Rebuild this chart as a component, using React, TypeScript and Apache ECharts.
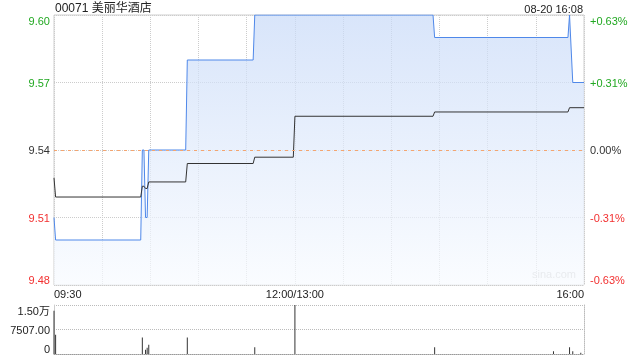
import React, { useEffect, useRef } from 'react';
import * as echarts from 'echarts';

const FONT = '"Liberation Sans", Arial, "Noto Sans CJK SC", sans-serif';

const stockTitle = '00071 美丽华酒店';
const stamp = '08-20 16:08';
const prevClose = 9.54;

// minute index since 09:30 (lunch break removed), 330 = 16:00
const tickMinutes = [0, 150, 330];
const tickLabels = ['09:30', '12:00/13:00', '16:00'];

const priceMinutes = [0, 1, 54, 55, 56, 57, 58, 59, 82, 83, 124, 125, 236, 237, 320, 321, 323, 330];
const priceValues = [9.51, 9.5, 9.5, 9.54, 9.54, 9.51, 9.51, 9.54, 9.54, 9.58, 9.58, 9.6, 9.6, 9.59, 9.59, 9.6, 9.57, 9.57];

const avgMinutes = [0, 1, 54, 55, 56, 57, 58, 59, 82, 83, 124, 125, 149, 150, 236, 237, 320, 321, 330];
const avgValues = [9.5276, 9.5191, 9.5191, 9.5239, 9.5239, 9.5229, 9.5229, 9.5258, 9.5258, 9.534, 9.534, 9.5368, 9.5368, 9.555, 9.555, 9.5569, 9.5569, 9.5588, 9.5588];

const volMinutes = [0, 1, 55, 57, 58, 59, 83, 125, 150, 237, 311, 321, 323, 328];
const volValues = [13280, 5880, 5060, 1300, 1900, 2830, 5060, 2030, 15014, 2030, 810, 2030, 810, 400];

const GREEN = '#21a821';
const RED = '#f23030';
const DARK = '#333';

const priceColor = (v: number) => (v > prevClose + 1e-6 ? GREEN : v < prevClose - 1e-6 ? RED : DARK);

export default function App() {
  const ref = useRef<HTMLDivElement>(null);
  useEffect(() => {
    const chart = echarts.init(ref.current!, null, { renderer: 'svg' });
    const priceData = priceMinutes.map((m, i) => [m, priceValues[i]]);
    const avgData = avgMinutes.map((m, i) => [m, avgValues[i]]);
    const volData = volMinutes.map((m, i) => [m, volValues[i]]);
    chart.setOption({
      animation: false,
      textStyle: { fontFamily: FONT },
      title: [
        { text: stockTitle, left: 55, top: 2, padding: 0, textStyle: { fontSize: 12, fontWeight: 'normal', color: '#222', fontFamily: FONT } },
        { text: stamp, right: 57, top: 3, padding: 0, textStyle: { fontSize: 11, fontWeight: 'normal', color: '#222', fontFamily: FONT } },
      ],
      graphic: [
        { type: 'text', right: 64, top: 268, style: { text: 'sina.com', fill: '#c8c8c8', fontSize: 11, fontFamily: FONT } },
      ],
      grid: [
        { left: 54, right: 56, top: 15, height: 270, show: true, borderColor: '#cfcfcf', borderWidth: 1, backgroundColor: 'transparent' },
        { left: 54, right: 56, top: 305, height: 49 },
      ],
      xAxis: [
        {
          type: 'value', gridIndex: 0, min: 0, max: 330, interval: 30,
          axisLine: { show: false }, axisTick: { show: false },
          splitLine: { show: true, lineStyle: { color: '#cccccc', type: 'dotted', width: 1 } },
          axisLabel: {
            margin: 3, fontSize: 11, color: '#222', fontFamily: FONT,
            showMinLabel: true, showMaxLabel: true,
            alignMinLabel: 'left', alignMaxLabel: 'right',
            formatter: (v: number) => {
              const i = tickMinutes.indexOf(Math.round(v));
              return i >= 0 ? tickLabels[i] : '';
            },
          },
        },
        {
          type: 'value', gridIndex: 1, min: 0, max: 330, interval: 30,
          axisLine: { show: true, lineStyle: { color: '#999', type: 'dotted' } },
          axisTick: { show: false }, axisLabel: { show: false }, splitLine: { show: false },
        },
      ],
      yAxis: [
        {
          type: 'value', gridIndex: 0, position: 'left', min: 9.48, max: 9.6, interval: 0.03,
          axisLine: { show: false }, axisTick: { show: false },
          splitLine: { show: true, lineStyle: { color: '#cccccc', type: 'dotted', width: 1 } },
          axisLabel: {
            margin: 4, fontSize: 11, fontFamily: FONT,
            verticalAlignMinLabel: 'bottom', verticalAlignMaxLabel: 'top',
            formatter: (v: number) => v.toFixed(2),
            color: (v: any) => priceColor(Number(v)),
          },
        },
        {
          type: 'value', gridIndex: 0, position: 'right', min: 9.48, max: 9.6, interval: 0.03,
          axisLine: { show: false }, axisTick: { show: false }, splitLine: { show: false },
          axisLabel: {
            margin: 6, fontSize: 11, fontFamily: FONT,
            verticalAlignMinLabel: 'bottom', verticalAlignMaxLabel: 'top',
            formatter: (v: number) => {
              const p = ((v - prevClose) / prevClose) * 100;
              if (Math.abs(p) < 0.001) return '0.00%';
              return (p > 0 ? '+' : '') + p.toFixed(2) + '%';
            },
            color: (v: any) => priceColor(Number(v)),
          },
        },
        {
          type: 'value', gridIndex: 1, position: 'left', min: 0, max: 15014, interval: 7507,
          axisLine: { show: true, lineStyle: { color: '#cccccc' } }, axisTick: { show: false },
          splitLine: { show: true, lineStyle: { color: '#bbbbbb', type: 'dotted' } },
          axisLabel: {
            margin: 4, fontSize: 11, color: '#222', fontFamily: FONT,
            verticalAlignMinLabel: 'bottom', verticalAlignMaxLabel: 'top',
            formatter: (v: number) => (v === 0 ? '0' : v >= 10000 ? (v / 10000).toFixed(2) + '万' : v.toFixed(2)),
          },
        },
        {
          type: 'value', gridIndex: 1, position: 'right', min: 0, max: 15014,
          axisLine: { show: true, lineStyle: { color: '#bbbbbb', type: 'dotted' } },
          axisTick: { show: false }, axisLabel: { show: false }, splitLine: { show: false },
        },
      ],
      series: [
        {
          type: 'line', xAxisIndex: 0, yAxisIndex: 0, data: priceData, symbol: 'none',
          lineStyle: { color: '#4f88e9', width: 1 },
          areaStyle: {
            origin: 'start',
            color: new echarts.graphic.LinearGradient(0, 0, 0, 1, [
              { offset: 0, color: '#c8daf8' },
              { offset: 1, color: '#f8fbff' },
            ]),
          },
          markLine: {
            silent: true, symbol: 'none', label: { show: false },
            lineStyle: { color: '#f4a570', type: [3, 4], width: 1 },
            data: [{ yAxis: prevClose }],
          },
          z: 3,
        },
        {
          type: 'line', xAxisIndex: 0, yAxisIndex: 0, data: avgData, symbol: 'none',
          lineStyle: { color: '#333', width: 1 }, z: 4,
        },
        {
          type: 'bar', xAxisIndex: 1, yAxisIndex: 2, data: volData, barWidth: 1,
          itemStyle: { color: '#333' },
        },
      ],
    });
    return () => chart.dispose();
  }, []);
  return <div ref={ref} style={{ position: 'fixed', left: 0, top: 0, width: 640, height: 360 }} />;
}
